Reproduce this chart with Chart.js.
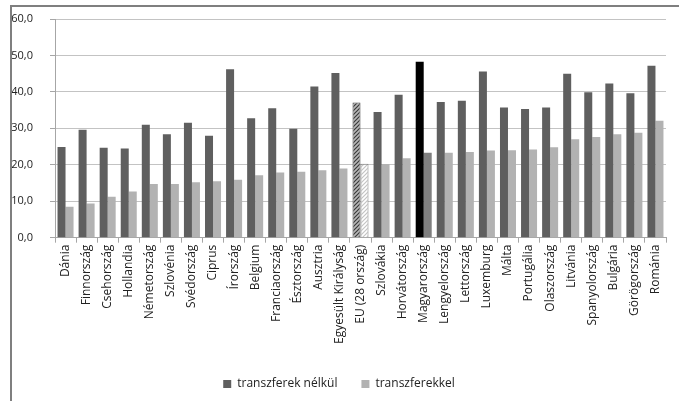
<!DOCTYPE html>
<html>
<head>
<meta charset="utf-8">
<script src="https://cdn.jsdelivr.net/npm/chart.js@4/dist/chart.umd.min.js"></script>
<style>
  html, body { margin: 0; padding: 0; background: #fff; }
  #wrap { position: relative; width: 679px; height: 401px; }
  #frame { position: absolute; left: 10px; top: 5px; right: 0; bottom: 0;
           border-left: 2px solid #7f7f7f; border-top: 2px solid #7f7f7f; }
  canvas { position: absolute; left: 0; top: 0; }
</style>
</head>
<body>
<div id="wrap">
  <div id="frame"></div>
  <canvas id="chart" width="679" height="401"></canvas>
</div>
<script>
// countries, sorted by the "with transfers" rate
var countries = [
  "Dánia", "Finnország", "Csehország", "Hollandia", "Németország", "Szlovénia",
  "Svédország", "Ciprus", "Írország", "Belgium", "Franciaország", "Észtország",
  "Ausztria", "Egyesült Királyság", "EU (28 ország)", "Szlovákia", "Horvátország",
  "Magyarország", "Lengyelország", "Lettország", "Luxemburg", "Málta", "Portugália",
  "Olaszország", "Litvánia", "Spanyolország", "Bulgária", "Görögország", "Románia"
];
var withoutTransfers = [
  24.9, 29.6, 24.7, 24.5, 31.0, 28.4, 31.5, 28.0, 46.2, 32.8, 35.5, 29.9,
  41.5, 45.2, 37.1, 34.5, 39.2, 48.3, 37.2, 37.6, 45.6, 35.7, 35.3,
  35.7, 45.0, 39.9, 42.3, 39.6, 47.2
];
var withTransfers = [
  8.5, 9.4, 11.2, 12.7, 14.7, 14.7, 15.2, 15.5, 15.9, 17.1, 17.9, 18.1,
  18.5, 19.0, 20.3, 20.2, 21.8, 23.3, 23.3, 23.5, 23.9, 24.0, 24.2,
  24.8, 27.0, 27.6, 28.4, 28.8, 32.1
];
var seriesNames = ["transzferek nélkül", "transzferekkel"];
var yTicks = [0, 10, 20, 30, 40, 50, 60];

var ctx = document.getElementById("chart").getContext("2d");

function hatch(bg, fg) {
  var c = document.createElement("canvas");
  c.width = 4; c.height = 4;
  var g = c.getContext("2d");
  g.fillStyle = bg;
  g.fillRect(0, 0, 4, 4);
  g.strokeStyle = fg;
  g.lineWidth = 1.2;
  g.beginPath();
  g.moveTo(0, 4); g.lineTo(4, 0);
  g.moveTo(-1, 1); g.lineTo(1, -1);
  g.moveTo(3, 5); g.lineTo(5, 3);
  g.stroke();
  return g.createPattern(c, "repeat");
}

var EU = countries.indexOf("EU (28 ország)");
var HU = countries.indexOf("Magyarország");

var darkColors = countries.map(function (c, i) {
  if (i == EU) return hatch("#b8b8b8", "#3a3a3a");
  if (i == HU) return "#000000";
  return "#5f5f5f";
});
var lightColors = countries.map(function (c, i) {
  if (i == EU) return hatch("#ffffff", "#c4c4c4");
  if (i == HU) return "#7f7f7f";
  return "#b2b2b2";
});
var borderW = countries.map(function (c, i) { return i == EU ? 1 : 0; });

var FONT = "'Open Sans', sans-serif";

new Chart(ctx, {
  type: "bar",
  data: {
    labels: countries,
    datasets: [
      {
        label: seriesNames[0],
        data: withoutTransfers,
        backgroundColor: darkColors,
        borderColor: "#404040",
        borderWidth: borderW,
      },
      {
        label: seriesNames[1],
        data: withTransfers,
        backgroundColor: lightColors,
        borderColor: "#808080",
        borderWidth: borderW,
      },
    ],
  },
  options: {
    responsive: false,
    animation: false,
    layout: { padding: { left: 12, right: 13, top: 19, bottom: 1 } },
    datasets: { bar: { categoryPercentage: 0.76, barPercentage: 1 } },
    plugins: {
      legend: {
        position: "bottom",
        labels: {
          font: { family: FONT, size: 12 },
          color: "#222",
          boxWidth: 8,
          boxHeight: 8,
          padding: 24,
        },
      },
      tooltip: { enabled: false },
    },
    scales: {
      x: {
        afterFit: function (axis) { axis.height += 8; },
        grid: { display: true, drawOnChartArea: false, offset: true, tickLength: 5, color: "#a6a6a6" },
        border: { color: "#a6a6a6" },
        ticks: {
          font: { family: FONT, size: 12 },
          color: "#222",
          minRotation: 90,
          maxRotation: 90,
          autoSkip: false,
          padding: 2,
        },
      },
      y: {
        min: 0,
        max: 60,
        afterBuildTicks: function (axis) {
          axis.ticks = yTicks.map(function (v) { return { value: v }; });
        },
        afterFit: function (axis) {
          axis.width = 43;
          axis.paddingTop = 0;
          axis.paddingBottom = 0;
        },
        grid: { color: "#c3c3c3", tickLength: 5, tickColor: "#a6a6a6" },
        border: { color: "#a6a6a6" },
        ticks: {
          font: { family: FONT, size: 11 },
          color: "#222",
          padding: 17,
          callback: function (v) { return v.toFixed(1).replace(".", ","); },
        },
      },
    },
  },
});
</script>
</body>
</html>
